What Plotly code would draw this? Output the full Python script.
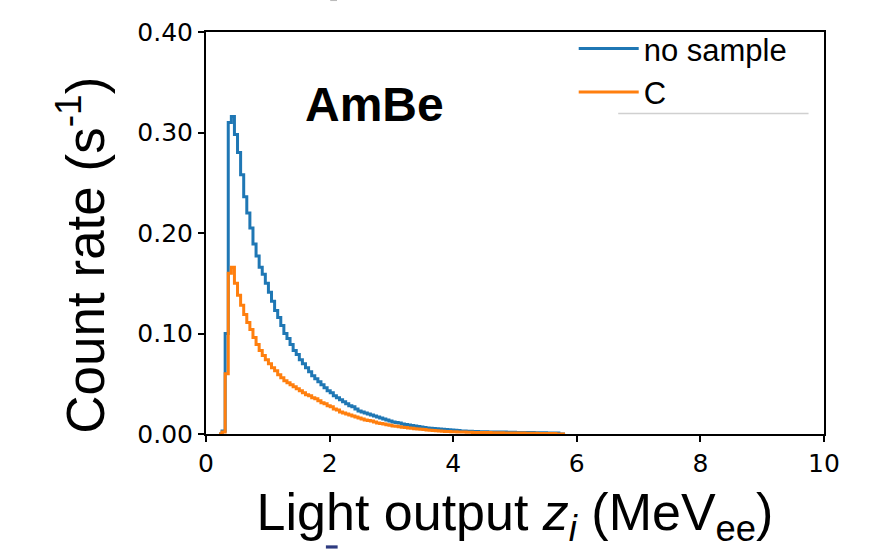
import numpy as np
import plotly.graph_objects as go

# ---- data (histogram, bin width 0.05, first bin left edge 0.21) ----
bin_start = 0.21
bin_width = 0.05

no_sample = [
    0.000, 0.003, 0.100, 0.310, 0.316, 0.298, 0.280, 0.258, 0.236, 0.220,
    0.205, 0.189, 0.177, 0.166, 0.159, 0.150, 0.141, 0.132, 0.123, 0.116,
    0.108, 0.100, 0.095, 0.089, 0.083, 0.079, 0.074, 0.070, 0.066, 0.062,
    0.058, 0.055, 0.052, 0.049, 0.046, 0.043, 0.041, 0.038, 0.036, 0.034,
    0.032, 0.030, 0.028, 0.027, 0.025, 0.023, 0.022, 0.021, 0.020, 0.019,
    0.018, 0.017, 0.016, 0.015, 0.014, 0.013, 0.012, 0.0115, 0.011, 0.010,
    0.0095, 0.009, 0.0085, 0.008, 0.0075, 0.007, 0.0065, 0.006, 0.0058, 0.0055,
    0.0052, 0.005, 0.0048, 0.0045, 0.0042, 0.004, 0.0037, 0.0034, 0.0031, 0.003,
    0.0028, 0.0027, 0.0026, 0.0025, 0.0023, 0.0022, 0.0022, 0.0021, 0.002, 0.002,
    0.002, 0.0019, 0.0019, 0.0018, 0.0018, 0.0017, 0.0016, 0.0016, 0.0015, 0.0015,
    0.0014, 0.0014, 0.0013, 0.0013, 0.0012, 0.0012, 0.0011, 0.0011, 0.001, 0.001,
    0.0, 0.0,
]

carbon = [
    0.000, 0.002, 0.060, 0.160, 0.166, 0.150, 0.138, 0.128, 0.119, 0.111,
    0.104, 0.096, 0.089, 0.083, 0.078, 0.074, 0.070, 0.066, 0.063, 0.059,
    0.056, 0.053, 0.051, 0.049, 0.047, 0.045, 0.043, 0.041, 0.039, 0.038,
    0.036, 0.035, 0.033, 0.031, 0.030, 0.028, 0.027, 0.025, 0.024, 0.022,
    0.021, 0.020, 0.019, 0.018, 0.017, 0.016, 0.015, 0.014, 0.0135, 0.013,
    0.012, 0.011, 0.0105, 0.010, 0.0093, 0.0087, 0.008, 0.0076, 0.0072, 0.0068,
    0.0064, 0.006, 0.0057, 0.0053, 0.005, 0.0047, 0.0044, 0.0041, 0.0038, 0.0035,
    0.0033, 0.003, 0.0028, 0.0026, 0.0024, 0.0023, 0.0022, 0.0021, 0.002, 0.0019,
    0.0018, 0.0017, 0.0016, 0.0016, 0.0015, 0.0015, 0.0014, 0.0014, 0.0013, 0.0013,
    0.0012, 0.0012, 0.0011, 0.0011, 0.001, 0.001, 0.001, 0.0009, 0.0009, 0.0008,
    0.0008, 0.0007, 0.0007, 0.0006, 0.0006, 0.0005, 0.0005, 0.0004, 0.0004, 0.0,
    0.0, 0.0,
]

series_names = ["no sample", "C"]
series_colors = ["#1f77b4", "#ff7f0e"]

x_ticks = [0, 2, 4, 6, 8, 10]
y_ticks = [0.0, 0.1, 0.2, 0.3, 0.4]


def step_xy(vals):
    edges = bin_start + bin_width * np.arange(len(vals) + 1)
    return np.round(edges, 4), list(vals) + [vals[-1]]


fig = go.Figure()
for name, vals, col in zip(series_names, [no_sample, carbon], series_colors):
    xs, ys = step_xy(vals)
    fig.add_trace(go.Scatter(
        x=xs, y=ys, mode="lines", name=name,
        line=dict(color=col, width=3, shape="hv"),
    ))

axis_common = dict(
    showgrid=False, zeroline=False, showline=True, linecolor="black",
    linewidth=2, mirror=True, ticks="outside", ticklen=6, tickwidth=1.5,
    tickcolor="black",
    tickfont=dict(family="DejaVu Sans", size=25, color="black"),
)

fig.update_layout(
    width=891, height=549,
    margin=dict(l=206, r=67, t=32, b=115),
    paper_bgcolor="white", plot_bgcolor="white",
    xaxis=dict(range=[0, 10], tickvals=x_ticks,
               title=dict(text="Light output <i>z</i><sub><i>i</i></sub> (MeV<sub>ee</sub>)",
                          font=dict(family="Liberation Sans", size=52, color="black"),
                          standoff=18),
               **axis_common),
    yaxis=dict(range=[0, 0.4], tickvals=y_ticks, tickformat=".2f",
               **axis_common),
    legend=dict(x=0.595, y=1.025, xanchor="left", yanchor="top",
                bgcolor="rgba(0,0,0,0)", itemwidth=60,
                font=dict(family="Liberation Sans", size=31, color="black"),
                tracegroupgap=0),
    showlegend=True,
    shapes=[
        dict(type="line", xref="paper", yref="paper", x0=0.667, x1=0.975,
             y0=0.797, y1=0.797, line=dict(color="#d0d0d0", width=1.5)),
        dict(type="rect", xref="paper", yref="paper", x0=0.194, x1=0.213,
             y0=-0.285, y1=-0.277, fillcolor="#2e3b80", line=dict(width=0)),
        dict(type="rect", xref="paper", yref="paper", x0=0.201, x1=0.212,
             y0=1.077, y1=1.08, fillcolor="#bbbbbb", line=dict(width=0)),
    ],
)

fig.add_annotation(
    x=-0.203, y=0.445, xref="paper", yref="paper",
    text="Count rate (s<sup>-1</sup>)", textangle=-90, showarrow=False,
    xanchor="center", yanchor="middle",
    font=dict(family="Liberation Sans", size=53, color="black"),
)

fig.add_annotation(
    x=2.73, y=0.328, xref="x", yref="y", text="<b>AmBe</b>", showarrow=False,
    font=dict(family="Liberation Sans", size=48, color="black"),
)

fig.write_html("out.html")
